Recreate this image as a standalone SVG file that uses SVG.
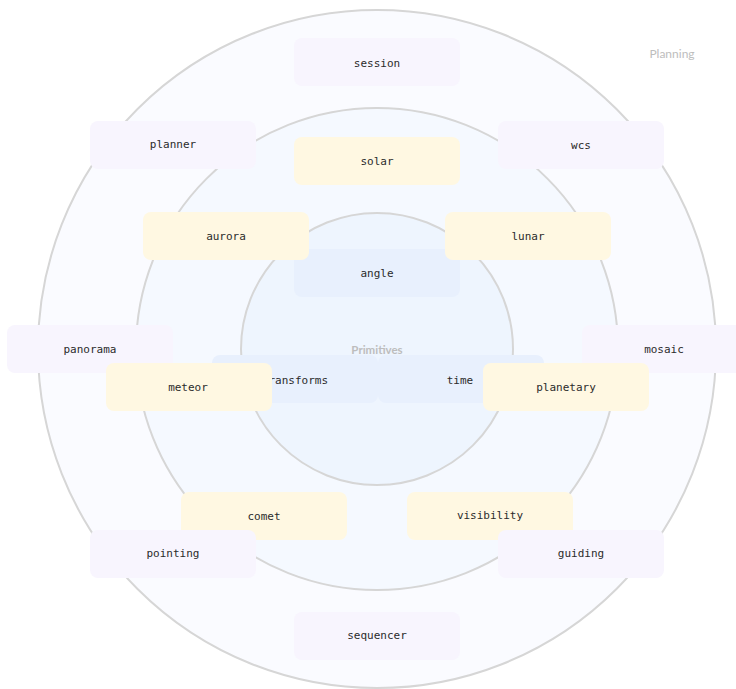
<svg xmlns="http://www.w3.org/2000/svg" width="736" height="689" viewBox="0 0 736 689">
<style>
.ring{stroke:#d6d6d6;stroke-width:2}
.n rect{width:166px;height:48px}
.p{fill:#f8f5fe}
.y{fill:#fff8e2}
.b{fill:#e8f0fd}
.n text{font-family:"DejaVu Sans Mono","Liberation Mono",monospace;font-size:11px;fill:#2b2b2b;text-anchor:middle;dominant-baseline:central}
.lbl{font-family:Lato,"Liberation Sans",sans-serif;fill:#bdbdbd;text-anchor:middle}
</style>
<rect width="736" height="689" fill="#ffffff"/>
<g id="rings">
<circle class="ring" cx="377" cy="349" r="339" fill="#fafbff"/>
<circle class="ring" cx="377" cy="349" r="241" fill="#f5f9ff"/>
<circle class="ring" cx="377" cy="349" r="136" fill="#eef5fe"/>
<text class="lbl" x="672" y="58" font-size="12">Planning</text>
<text class="lbl" x="377" y="354" font-size="11.5" font-weight="bold">Primitives</text>
</g>
<g id="connectors"></g>
<g id="transforms" class="n"><rect class="b" x="212" y="355" width="166" height="49" rx="8"/><text x="295" y="380">transforms</text></g>
<g id="time" class="n"><rect class="b" x="378" y="355" width="166" height="49" rx="8"/><text x="460" y="380">time</text></g>
<g id="angle" class="n"><rect class="b" x="294" y="249" width="166" height="48" rx="8"/><text x="377" y="273">angle</text></g>
<g id="panorama" class="n"><rect class="p" x="7" y="325" width="166" height="48" rx="8"/><text x="90" y="349">panorama</text></g>
<g id="mosaic" class="n"><rect class="p" x="582" y="325" width="166" height="48" rx="8"/><text x="664" y="349">mosaic</text></g>
<g id="meteor" class="n"><rect class="y" x="106" y="363" width="166" height="49" rx="8"/><text x="188" y="387">meteor</text></g>
<g id="planetary" class="n"><rect class="y" x="483" y="363" width="166" height="49" rx="8"/><text x="566" y="387">planetary</text></g>
<g id="comet" class="n"><rect class="y" x="181" y="492" width="166" height="49" rx="8"/><text x="264" y="516">comet</text></g>
<g id="visibility" class="n"><rect class="y" x="407" y="492" width="166" height="49" rx="8"/><text x="490" y="515">visibility</text></g>
<g id="pointing" class="n"><rect class="p" x="90" y="530" width="166" height="48" rx="8"/><text x="173" y="553">pointing</text></g>
<g id="guiding" class="n"><rect class="p" x="498" y="530" width="166" height="48" rx="8"/><text x="581" y="553">guiding</text></g>
<g id="solar" class="n"><rect class="y" x="294" y="137" width="166" height="48" rx="8"/><text x="377" y="161">solar</text></g>
<g id="aurora" class="n"><rect class="y" x="143" y="212" width="166" height="48" rx="8"/><text x="226" y="236">aurora</text></g>
<g id="lunar" class="n"><rect class="y" x="445" y="212" width="166" height="48" rx="8"/><text x="528" y="236">lunar</text></g>
<g id="session" class="n"><rect class="p" x="294" y="38" width="166" height="48" rx="8"/><text x="377" y="63">session</text></g>
<g id="planner" class="n"><rect class="p" x="90" y="121" width="166" height="48" rx="8"/><text x="173" y="144">planner</text></g>
<g id="wcs" class="n"><rect class="p" x="498" y="121" width="166" height="48" rx="8"/><text x="581" y="145">wcs</text></g>
<g id="sequencer" class="n"><rect class="p" x="294" y="612" width="166" height="48" rx="8"/><text x="377" y="635">sequencer</text></g>
</svg>
